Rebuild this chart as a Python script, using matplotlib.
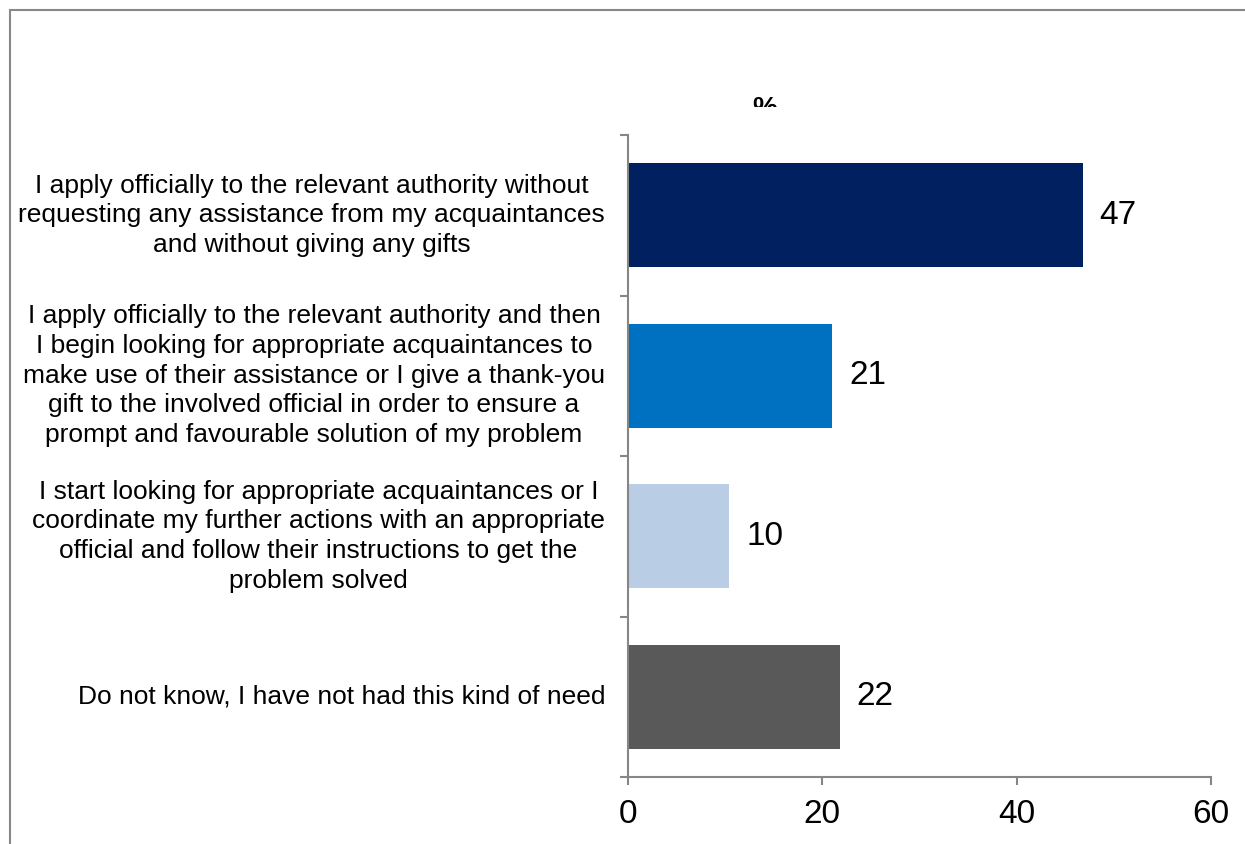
import matplotlib
matplotlib.use("Agg")
import matplotlib.pyplot as plt
from matplotlib.patches import Rectangle
from matplotlib.transforms import Bbox

categories = [
    "I apply officially to the relevant authority without\nrequesting any assistance from my acquaintances\nand without giving any gifts",
    "I apply officially to the relevant authority and then\nI begin looking for appropriate acquaintances to\nmake use of their assistance or I give a thank-you\ngift to the involved official in order to ensure a\nprompt and favourable solution of my problem",
    "I start looking for appropriate acquaintances or I\ncoordinate my further actions with an appropriate\nofficial and follow their instructions to get the\nproblem solved",
    "Do not know, I have not had this kind of need",
]
values = [47, 21, 10, 22]
plot_values = [46.8, 21.0, 10.4, 21.8]
colors = ["#002060", "#0070C0", "#B9CDE5", "#595959"]
xticks = [0, 20, 40, 60]

plt.rcParams['font.family'] = ['Liberation Sans', 'DejaVu Sans']

W, H = 1245, 844
fig = plt.figure(figsize=(W / 100, H / 100), dpi=100)
ax = fig.add_axes([628 / W, 1 - 777 / H, (1211 - 628) / W, (777 - 135) / H])

ypos = list(range(len(categories)))
ax.barh(ypos, plot_values, height=0.65, color=colors)
ax.set_ylim(len(categories) - 0.5, -0.5)
ax.set_xlim(0, 60)

grey = "#868686"
for s in ["top", "right"]:
    ax.spines[s].set_visible(False)
for s in ["left", "bottom"]:
    ax.spines[s].set_color(grey)
    ax.spines[s].set_linewidth(1.5)

ax.set_xticks(xticks)
ax.set_xticklabels([str(t) for t in xticks], fontsize=24)
ax.tick_params(axis="x", direction="out", length=6, width=1.5, color=grey, pad=10)

ax.set_yticks([y - 0.5 for y in range(len(categories) + 1)])
ax.set_yticklabels([])
ax.tick_params(axis="y", direction="out", length=6, width=1.5, color=grey)

for y, lab in zip(ypos, categories):
    ax.annotate(lab, xy=(0, y), xycoords=("axes fraction", "data"),
                xytext=(-23, 0), textcoords="offset pixels",
                ha="right", va="center", multialignment="center",
                fontsize=19, linespacing=1.3)

for y, v, pv in zip(ypos, values, plot_values):
    ax.annotate(str(v), xy=(pv, y), xytext=(17, 0), textcoords="offset pixels",
                ha="left", va="center", fontsize=24)

# outer border (top and left visible, right/bottom beyond the image)
border = Rectangle((10 / W, -0.05), 1.0, 1 - 10 / H + 0.05,
                   transform=fig.transFigure, fill=False, edgecolor="#888888",
                   linewidth=1.5)
fig.patches.append(border)

# clipped "%" title
t = fig.text(765 / W, 1 - 116 / H, "%", ha="center", va="baseline",
             fontsize=20, fontweight="bold")
t.set_clip_box(Bbox.from_extents(0, H - 107, W, H))
t.set_clip_on(True)

fig.savefig("out.png", dpi=100)
